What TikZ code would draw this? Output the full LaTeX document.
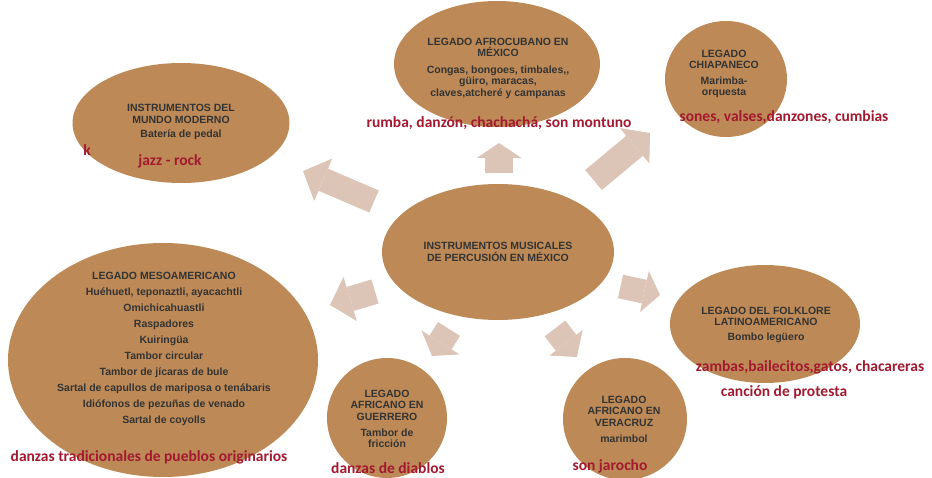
\documentclass[tikz,border=0pt]{standalone}
\usepackage{fontspec}
\usetikzlibrary{shapes.geometric,arrows.meta}
\newfontfamily\labelfont{Liberation Sans}
\newfontfamily\genrefont{Carlito}
\definecolor{bubblefill}{HTML}{BD8A57}
\definecolor{arrowfill}{HTML}{DCC5B6}
\definecolor{genrered}{HTML}{A3192F}
\definecolor{labelgray}{HTML}{333333}

\tikzset{%
  % Specifications for style of nodes:
         bubble/.style = {ellipse, fill=bubblefill, inner sep=0pt, outer sep=0pt},
        heading/.style = {align=center, inner sep=0pt, text=labelgray, font=\labelfont\bfseries\fontsize{10.5}{11.5}\selectfont},
          genre/.style = {inner sep=0pt, text=genrered, font=\genrefont\bfseries\fontsize{15.5}{17}\selectfont},
  % Specifications for the block arrows:
     blockarrow/.style = {color=arrowfill},
}

\begin{document}
\begin{tikzpicture}[x=1pt, y=-1pt]
    \useasboundingbox (0,0) rectangle (932,478);

    % Draw bubbles
    \node (afro)      [bubble, minimum width=206pt, minimum height=126pt] at (497,64)  {};
    \node (chiapas)   [bubble, minimum width=122pt, minimum height=116pt] at (726,79)  {};
    \node (moderno)   [bubble, minimum width=217pt, minimum height=120pt] at (181,123) {};
    \node (mexico)    [bubble, minimum width=232pt, minimum height=136pt] at (498,252) {};
    \node (meso)      [bubble, minimum width=310pt, minimum height=234pt] at (163,360) {};
    \node (guerrero)  [bubble, minimum width=120pt, minimum height=120pt] at (387,418) {};
    \node (veracruz)  [bubble, minimum width=124pt, minimum height=122pt] at (625,419) {};
    \node (folklore)  [bubble, minimum width=190pt, minimum height=118pt] at (765,324) {};

    % Draw bubble texts
    \node (mexicoText)   [heading] at (mexico)    {INSTRUMENTOS MUSICALES\\DE PERCUSIÓN EN MÉXICO};
    \node (afroText)     [heading] at (498,68)    {LEGADO AFROCUBANO EN\\MÉXICO\\[5pt]Congas, bongoes, timbales,,\\güiro, maracas,\\claves,atcheré y campanas};
    \node (chiapasText)  [heading] at (724,74)    {LEGADO\\CHIAPANECO\\[4pt]Marimba-\\orquesta};
    \node (modernoText)  [heading] at (181,122)   {INSTRUMENTOS DEL\\MUNDO MODERNO\\[3pt]Batería de pedal};
    \node (mesoText)     [heading] at (164,349)   {LEGADO MESOAMERICANO\\[4.5pt]Huéhuetl, teponaztli, ayacachtli\\[4.5pt]Omichicahuastli\\[4.5pt]Raspadores\\[4.5pt]Kuiringüa\\[4.5pt]Tambor circular\\[4.5pt]Tambor de jícaras de bule\\[4.5pt]Sartal de capullos de mariposa o tenábaris\\[4.5pt]Idiófonos de pezuñas de venado\\[4.5pt]Sartal de coyolls};
    \node (guerreroText) [heading] at (387,419)   {LEGADO\\AFRICANO EN\\GUERRERO\\[4.5pt]Tambor de\\fricción};
    \node (veracruzText) [heading] at (624,419)   {LEGADO\\AFRICANO EN\\VERACRUZ\\[4.5pt]marimbol};
    \node (folkloreText) [heading] at (766,325)   {LEGADO DEL FOLKLORE\\LATINOAMERICANO\\[3.5pt]Bombo legüero};

    % Draw genre texts
    \node (rumba)    [genre] at (499,123) {rumba, danzón, chachachá, son montuno};
    \node (sones)    [genre] at (784,117) {sones, valses,danzones, cumbias};
    \node (jazz)     [genre] at (170,161) {jazz - rock};
    \node (cutK)     [genre] at (87,150)  {k};
    \node (danzas)   [genre] at (149,457) {danzas tradicionales de pueblos originarios};
    \node (diablos)  [genre] at (388,468) {danzas de diablos};
    \node (jarocho)  [genre] at (610,466) {son jarocho};
    \node (zambas)   [genre] at (810,367) {zambas,bailecitos,gatos, chacareras};
    \node (protesta) [genre] at (784,392) {canción de protesta};

    % Arrow ends
    \coordinate (upTail)    at (499,173);   \coordinate (upTip)    at (499,143);
    \coordinate (nwTail)    at (374,201.5); \coordinate (nwTip)    at (303,171);
    \coordinate (neTail)    at (593.5,180); \coordinate (neTip)    at (650,133);
    \coordinate (wTail)     at (375,291.5); \coordinate (wTip)     at (330,305);
    \coordinate (eTail)     at (620.5,286.5); \coordinate (eTip)   at (660,295);
    \coordinate (swTail)    at (449,329);   \coordinate (swTip)    at (432,356);
    \coordinate (seTail)    at (555,328.5); \coordinate (seTip)    at (577,357);

    % Draw arrows
    \draw[blockarrow, line width=28pt, -{Triangle[length=15pt, width=45pt, line width=0pt]}] (upTail) -- (upTip);
    \draw[blockarrow, line width=24pt, -{Triangle[length=22pt, width=46pt, line width=0pt]}] (nwTail) -- (nwTip);
    \draw[blockarrow, line width=26pt, -{Triangle[length=20pt, width=46pt, line width=0pt]}] (neTail) -- (neTip);
    \draw[blockarrow, line width=25pt, -{Triangle[length=21pt, width=46pt, line width=0pt]}] (wTail) -- (wTip);
    \draw[blockarrow, line width=24pt, -{Triangle[length=16pt, width=42pt, line width=0pt]}] (eTail) -- (eTip);
    \draw[blockarrow, line width=26pt, -{Triangle[length=16pt, width=45pt, line width=0pt]}] (swTail) -- (swTip);
    \draw[blockarrow, line width=26pt, -{Triangle[length=18pt, width=42pt, line width=0pt]}] (seTail) -- (seTip);
\end{tikzpicture}
\end{document}
